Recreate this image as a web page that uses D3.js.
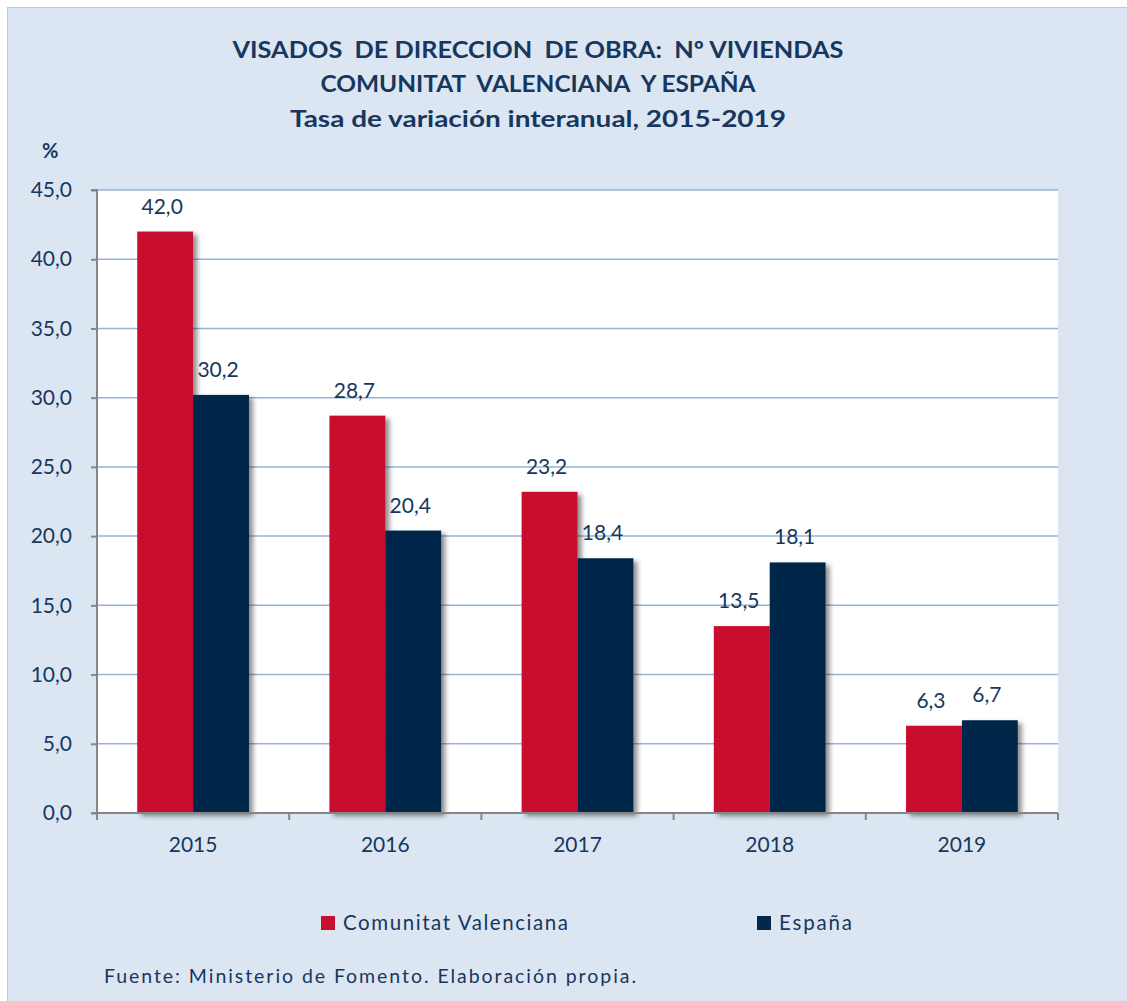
<!DOCTYPE html>
<html><head><meta charset="utf-8">
<script src="https://cdn.jsdelivr.net/npm/d3@7"></script>
<style>body{margin:0;background:#fff;} svg{display:block;}</style>
</head><body>
<svg id="c" width="1127" height="1001"></svg>
<script>
const categories = ["2015","2016","2017","2018","2019"];
const seriesNames = ["Comunitat Valenciana","España"];
const valenciana = [42.0, 28.7, 23.2, 13.5, 6.3];
const espana = [30.2, 20.4, 18.4, 18.1, 6.7];
const yTicks = [0,5,10,15,20,25,30,35,40,45];
const titleLines = ["VISADOS  DE DIRECCION  DE OBRA:  Nº VIVIENDAS","COMUNITAT  VALENCIANA  Y ESPAÑA","Tasa de variación interanual, 2015-2019"];
const colors = ["#c8102e","#03284a"];
const txt = "#17375e";
const font = "Lato, 'Open Sans', sans-serif";

const svg = d3.select("#c");
const defs = svg.append("defs");
const f = defs.append("filter").attr("id","sh").attr("x","-20%").attr("y","-5%").attr("width","150%").attr("height","120%");
f.append("feGaussianBlur").attr("in","SourceAlpha").attr("stdDeviation",2.5).attr("result","b");
f.append("feOffset").attr("in","b").attr("dx",4).attr("dy",3).attr("result","o");
f.append("feComponentTransfer").attr("in","o").attr("result","o2").append("feFuncA").attr("type","linear").attr("slope",0.45);
const m = f.append("feMerge"); m.append("feMergeNode").attr("in","o2"); m.append("feMergeNode").attr("in","SourceGraphic");

svg.append("rect").attr("x",7.5).attr("y",7.5).attr("width",1125).attr("height",1000)
  .attr("fill","#dce6f2").attr("stroke","#c8c8c8").attr("stroke-width",1);

const L=97, R=1058, T=190, B=813;
svg.append("rect").attr("x",L).attr("y",T).attr("width",R-L).attr("height",B-T).attr("fill","#fff");

const x = d3.scaleBand().domain(categories).range([L,R]).paddingInner(0).paddingOuter(0);
const x1 = d3.scaleBand().domain(seriesNames).range([0,x.bandwidth()]).paddingInner(0).paddingOuter(0.72);
const y = d3.scaleLinear().domain([0,45]).range([B,T]);

svg.append("g").selectAll("line").data(yTicks.filter(d=>d>0)).join("line")
  .attr("x1",L).attr("x2",R).attr("y1",d=>y(d)).attr("y2",d=>y(d))
  .attr("stroke","#95b3d7").attr("stroke-width",1.5);

const data = categories.map((c,i)=>({c, vals:[valenciana[i], espana[i]]}));
const g = svg.append("g");
data.forEach(d=>{
  d.vals.forEach((v,j)=>{
    g.append("rect").attr("x",x(d.c)+x1(seriesNames[j])).attr("y",y(v))
      .attr("width",x1.bandwidth()).attr("height",B-y(v)).attr("fill",colors[j]).attr("filter","url(#sh)");
  });
});
data.forEach(d=>{
  d.vals.forEach((v,j)=>{
    g.append("text").attr("x",x(d.c)+x1(seriesNames[j])+x1.bandwidth()/2-3).attr("y",y(v)-18)
      .attr("text-anchor","middle").attr("font-family",font).attr("font-size",21).attr("fill",txt)
      .text(d3.format(".1f")(v).replace(".",","));
  });
});

const yAxis = svg.append("g").attr("transform",`translate(${L},0)`)
  .call(d3.axisLeft(y).tickValues(yTicks).tickSize(6).tickPadding(19).tickFormat(d=>d3.format(".1f")(d).replace(".",",")));
const xAxis = svg.append("g").attr("transform",`translate(0,${B})`)
  .call(d3.axisBottom(x).tickSize(0).tickPadding(24));
xAxis.append("g").selectAll("line").data(d3.range(categories.length+1)).join("line")
  .attr("x1",i=>L+i*x.step()).attr("x2",i=>L+i*x.step()).attr("y1",0).attr("y2",7).attr("stroke","#868686").attr("stroke-width",2);
[yAxis,xAxis].forEach(a=>{
  a.select(".domain").attr("stroke","#868686").attr("stroke-width",2);
  a.selectAll(".tick line").attr("stroke","#868686").attr("stroke-width",2);
  a.selectAll("text").attr("font-family",font).attr("font-size",21).attr("fill",txt);
});
yAxis.select(".domain").attr("d",`M-6,${T}H0V${B}H-6`);
xAxis.select(".domain").attr("d",`M${L},0H${R}`);

const titleY = [58,92,127], titleW = [611,435,496];
titleLines.forEach((t,i)=>{
  svg.append("text").attr("x",538).attr("y",titleY[i]).attr("text-anchor","middle")
    .attr("font-family",font).attr("font-weight","bold").attr("font-size",23).attr("fill",txt)
    .attr("textLength",titleW[i]).attr("lengthAdjust","spacingAndGlyphs")
    .attr("xml:space","preserve").text(t);
});
svg.append("text").attr("x",42).attr("y",158).attr("font-family",font).attr("font-weight","bold").attr("font-size",20).attr("fill",txt).text("%");

const lg = [{x:321,w:225},{x:757,w:73}];
seriesNames.forEach((s,i)=>{
  svg.append("rect").attr("x",lg[i].x).attr("y",916).attr("width",14).attr("height",14).attr("fill",colors[i]);
  svg.append("text").attr("x",lg[i].x+22).attr("y",930).attr("font-family",font).attr("font-size",20.5).attr("fill",txt)
    .attr("textLength",lg[i].w).attr("lengthAdjust","spacing").text(s);
});
svg.append("text").attr("x",104).attr("y",983).attr("font-family",font).attr("font-size",19.5).attr("fill",txt)
  .attr("textLength",532).attr("lengthAdjust","spacing").text("Fuente: Ministerio de Fomento. Elaboración propia.");
</script>
</body></html>
